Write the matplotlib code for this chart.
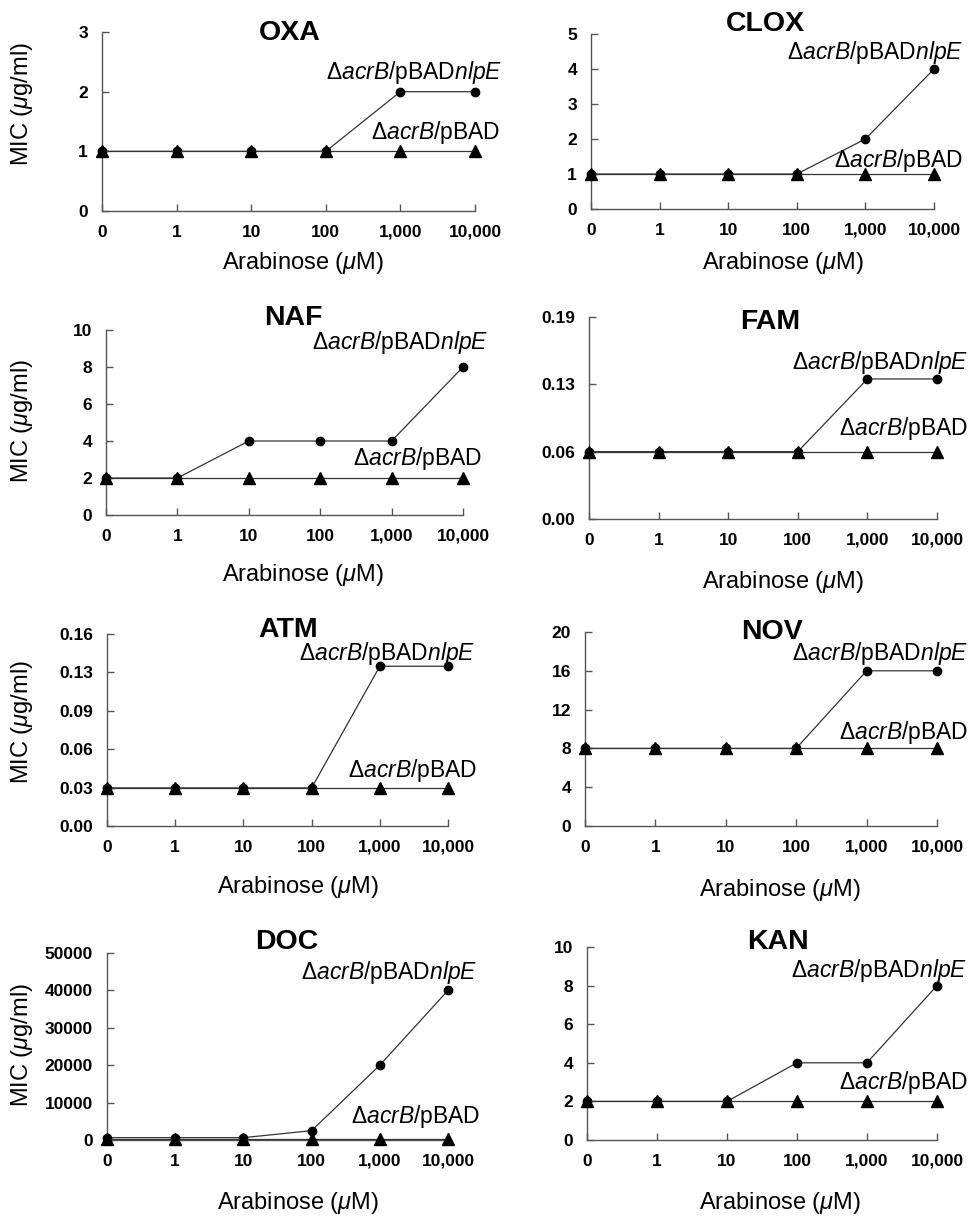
import matplotlib
matplotlib.use("Agg")
import matplotlib.pyplot as plt
from matplotlib.ticker import FixedLocator

plt.rcParams['font.family'] = ['Liberation Sans', 'DejaVu Sans']
plt.rcParams['mathtext.fontset'] = 'custom'
plt.rcParams['mathtext.rm'] = 'Liberation Sans'
plt.rcParams['mathtext.it'] = 'Liberation Sans:italic'
plt.rcParams['mathtext.bf'] = 'Liberation Sans:bold'

# ---------------- data ----------------
arabinose_labels = ["0", "1", "10", "100", "1,000", "10,000"]

drugs = ["OXA", "CLOX", "NAF", "FAM", "ATM", "NOV", "DOC", "KAN"]

oxa_nlpE = [1, 1, 1, 1, 2, 2]
oxa_pBAD = [1, 1, 1, 1, 1, 1]
clox_nlpE = [1, 1, 1, 1, 2, 4]
clox_pBAD = [1, 1, 1, 1, 1, 1]
naf_nlpE = [2, 2, 4, 4, 4, 8]
naf_pBAD = [2, 2, 2, 2, 2, 2]
fam_nlpE = [0.0625, 0.0625, 0.0625, 0.0625, 0.13, 0.13]
fam_pBAD = [0.0625, 0.0625, 0.0625, 0.0625, 0.0625, 0.0625]
atm_nlpE = [0.031, 0.031, 0.031, 0.031, 0.13, 0.13]
atm_pBAD = [0.031, 0.031, 0.031, 0.031, 0.031, 0.031]
nov_nlpE = [8, 8, 8, 8, 16, 16]
nov_pBAD = [8, 8, 8, 8, 8, 8]
doc_nlpE = [625, 625, 625, 2500, 20000, 40000]
doc_pBAD = [312, 312, 312, 312, 312, 312]
kan_nlpE = [2, 2, 2, 4, 4, 8]
kan_pBAD = [2, 2, 2, 2, 2, 2]

nlpE_series = [oxa_nlpE, clox_nlpE, naf_nlpE, fam_nlpE, atm_nlpE, nov_nlpE, doc_nlpE, kan_nlpE]
pBAD_series = [oxa_pBAD, clox_pBAD, naf_pBAD, fam_pBAD, atm_pBAD, nov_pBAD, doc_pBAD, kan_pBAD]

oxa_ticks = [0, 1, 2, 3]
clox_ticks = [0, 1, 2, 3, 4, 5]
naf_ticks = [0, 2, 4, 6, 8, 10]
fam_ticks = [0, 0.0625, 0.125, 0.1875]
fam_ticklabels = ["0.00", "0.06", "0.13", "0.19"]
atm_ticks = [0, 0.03125, 0.0625, 0.09375, 0.125, 0.15625]
atm_ticklabels = ["0.00", "0.03", "0.06", "0.09", "0.13", "0.16"]
nov_ticks = [0, 4, 8, 12, 16, 20]
doc_ticks = [0, 10000, 20000, 30000, 40000, 50000]
kan_ticks = [0, 2, 4, 6, 8, 10]

y_ticks = [oxa_ticks, clox_ticks, naf_ticks, fam_ticks, atm_ticks, nov_ticks, doc_ticks, kan_ticks]
y_ticklabels = [None, None, None, fam_ticklabels, atm_ticklabels, None, None, None]

label_nlpE = r'$\Delta\mathit{acrB}$/pBAD$\mathit{nlpE}$'
label_pBAD = r'$\Delta\mathit{acrB}$/pBAD'
xlabel_text = r'Arabinose ($\mu$M)'
ylabel_text = r'MIC ($\mu$g/ml)'

# ---------------- layout (pixels) ----------------
W, H = 971, 1216
fig = plt.figure(figsize=(W / 100, H / 100), dpi=100)

# left, top, right, bottom in pixels
axes_px = [
    (102, 32, 475, 211), (591, 34, 934, 209),
    (106, 330, 463, 515), (589, 317, 937, 519),
    (107, 634, 448, 826), (585, 632, 937, 826),
    (107, 953, 448, 1140), (587, 947, 937, 1140),
]
title_px = [(290, 33), (765, 24), (293, 318), (770, 322),
            (288, 630), (772, 632), (287, 942), (778, 942)]
nlpE_txt_px = [(502, 73), (963, 52), (488, 343), (968, 362),
               (475, 653), (968, 653), (477, 973), (967, 970)]
pBAD_txt_px = [(500, 132), (963, 160), (482, 458), (968, 428),
               (477, 770), (968, 733), (480, 1117), (968, 1083)]
xlabel_px = [(303, 263), (783, 263), (303, 575), (783, 582),
             (298, 887), (780, 890), (298, 1203), (780, 1203)]
ylabel_px = {0: (22, 104), 2: (22, 421), 4: (22, 722), 6: (22, 1045)}


def fx(x):
    return x / W


def fy(y):
    return 1 - y / H


spine_col = '#555555'
line_col = '#333333'

for i, drug in enumerate(drugs):
    l, t, r, b = axes_px[i]
    ax = fig.add_axes([fx(l), fy(b), (r - l) / W, (b - t) / H])
    xs = list(range(len(arabinose_labels)))
    ax.plot(xs, nlpE_series[i], color=line_col, lw=0.9, marker='o', ms=6,
            mfc='black', mec='black', clip_on=False, zorder=3)
    ax.plot(xs, pBAD_series[i], color=line_col, lw=0.9, marker='^', ms=8,
            mfc='black', mec='black', clip_on=False, zorder=4)
    ax.set_xlim(0, len(arabinose_labels) - 1)
    ax.set_ylim(y_ticks[i][0], y_ticks[i][-1])
    ax.xaxis.set_major_locator(FixedLocator(xs))
    ax.set_xticklabels(arabinose_labels)
    ax.yaxis.set_major_locator(FixedLocator(y_ticks[i]))
    if y_ticklabels[i] is not None:
        ax.set_yticklabels(y_ticklabels[i])
    else:
        ax.set_yticklabels([str(v) for v in y_ticks[i]])
    for s in ['top', 'right']:
        ax.spines[s].set_visible(False)
    for s in ['left', 'bottom']:
        ax.spines[s].set_color(spine_col)
        ax.spines[s].set_linewidth(1.0)
    ax.tick_params(axis='both', direction='in', length=5, width=1.0,
                   color=spine_col, labelsize=12.5)
    ax.tick_params(axis='x', pad=10)
    ax.tick_params(axis='y', pad=10)
    for lab in ax.get_xticklabels() + ax.get_yticklabels():
        lab.set_fontweight('bold')
    ax.patch.set_alpha(0)

    tx, ty = title_px[i]
    fig.text(fx(tx), fy(ty), drug, ha='center', va='center',
             fontsize=20.5, fontweight='bold')
    nx, ny = nlpE_txt_px[i]
    fig.text(fx(nx), fy(ny), label_nlpE, ha='right', va='center', fontsize=16.5)
    px_, py_ = pBAD_txt_px[i]
    fig.text(fx(px_), fy(py_), label_pBAD, ha='right', va='center', fontsize=16.5)
    xx, xy = xlabel_px[i]
    fig.text(fx(xx), fy(xy), xlabel_text, ha='center', va='center', fontsize=17)
    if i in ylabel_px:
        yx, yy = ylabel_px[i]
        fig.text(fx(yx), fy(yy), ylabel_text, ha='center', va='center',
                 fontsize=17, rotation=90)

fig.savefig('out.png', dpi=100)
